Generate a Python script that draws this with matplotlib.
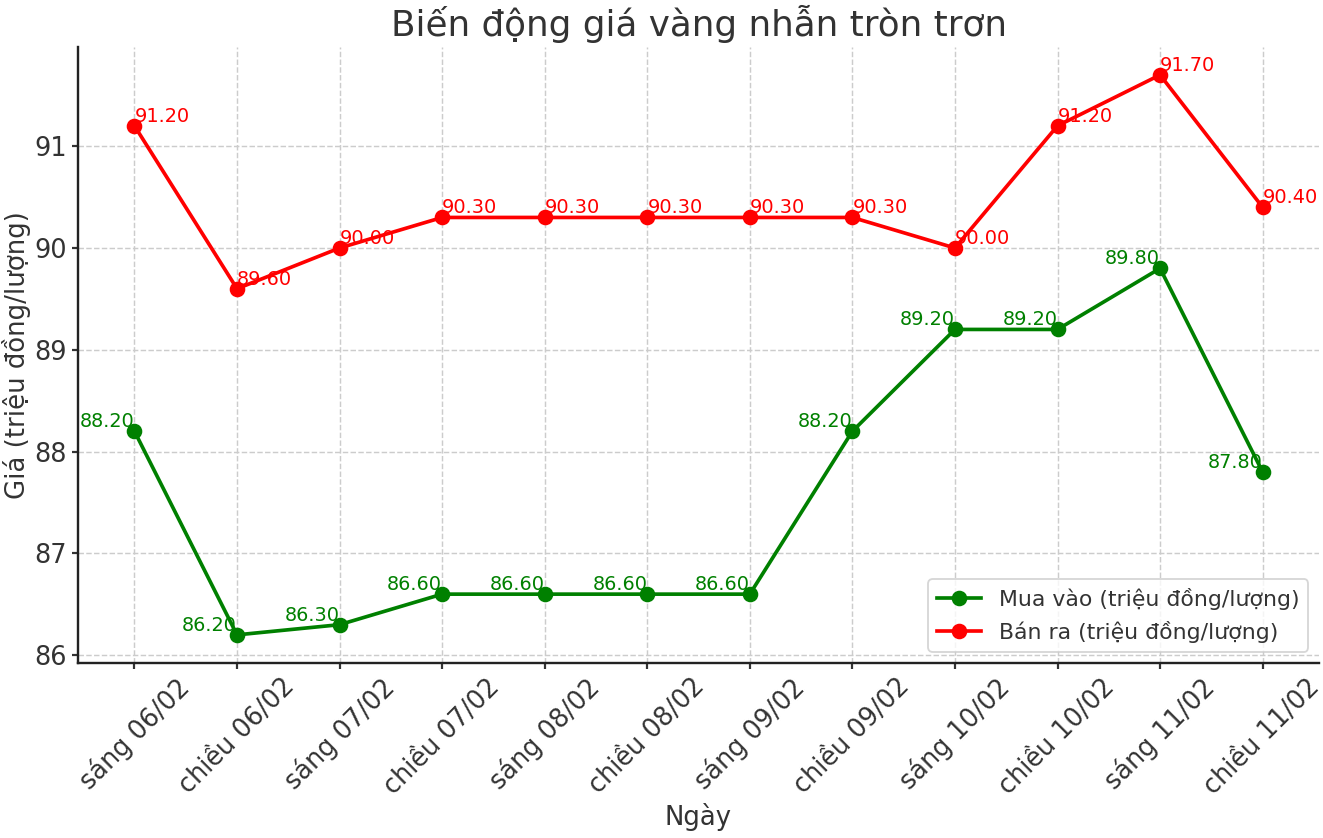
import matplotlib
matplotlib.use("Agg")
import matplotlib.pyplot as plt

# ── Data ──────────────────────────────────────────────────────────────────────
days = ["sáng 06/02", "chiều 06/02", "sáng 07/02", "chiều 07/02",
        "sáng 08/02", "chiều 08/02", "sáng 09/02", "chiều 09/02",
        "sáng 10/02", "chiều 10/02", "sáng 11/02", "chiều 11/02"]
buy  = [88.2, 86.2, 86.3, 86.6, 86.6, 86.6, 86.6, 88.2, 89.2, 89.2, 89.8, 87.8]
sell = [91.2, 89.6, 90.0, 90.3, 90.3, 90.3, 90.3, 90.3, 90.0, 91.2, 91.7, 90.4]

TEXT = "#333333"
plt.rcParams["font.family"] = ["DejaVu Sans"]
plt.rcParams["text.color"] = TEXT
plt.rcParams["axes.labelcolor"] = TEXT
plt.rcParams["xtick.color"] = TEXT
plt.rcParams["ytick.color"] = TEXT

fig, ax = plt.subplots(figsize=(1323 / 132, 838 / 132), dpi=132)
fig.subplots_adjust(left=0.059, right=0.997, bottom=0.209, top=0.944)

x = range(len(days))
ax.plot(x, buy, "-o", color="green", linewidth=2, markersize=7.5,
        label="Mua vào (triệu đồng/lượng)")
ax.plot(x, sell, "-o", color="red", linewidth=2, markersize=7.5,
        label="Bán ra (triệu đồng/lượng)")

# value labels: buy to the left, sell to the right
for i, v in enumerate(buy):
    ax.text(i, v, f"{v:.2f}", color="green", fontsize=10.5, ha="right", va="bottom")
for i, v in enumerate(sell):
    ax.text(i, v, f"{v:.2f}", color="red", fontsize=10.5, ha="left", va="bottom")

ax.set_title("Biến động giá vàng nhẫn tròn trơn", fontsize=19.5, color=TEXT)
ax.set_xlabel("Ngày", fontsize=14.2, labelpad=2)
ax.set_ylabel("Giá (triệu đồng/lượng)", fontsize=14.2, labelpad=2)
ax.set_xticks(list(x))
ax.set_xticklabels(days, rotation=45)
ax.tick_params(axis="both", labelsize=14, direction="out", length=3.5, pad=2.5, width=1.2)

ax.grid(True, linestyle="--", color="#cccccc", linewidth=0.8)
for side in ("top", "right"):
    ax.spines[side].set_visible(False)
for side in ("left", "bottom"):
    ax.spines[side].set_color("#222222")
    ax.spines[side].set_linewidth(1.3)

ax.legend(loc="lower right", fontsize=12)

fig.savefig("out.png", dpi=132)
